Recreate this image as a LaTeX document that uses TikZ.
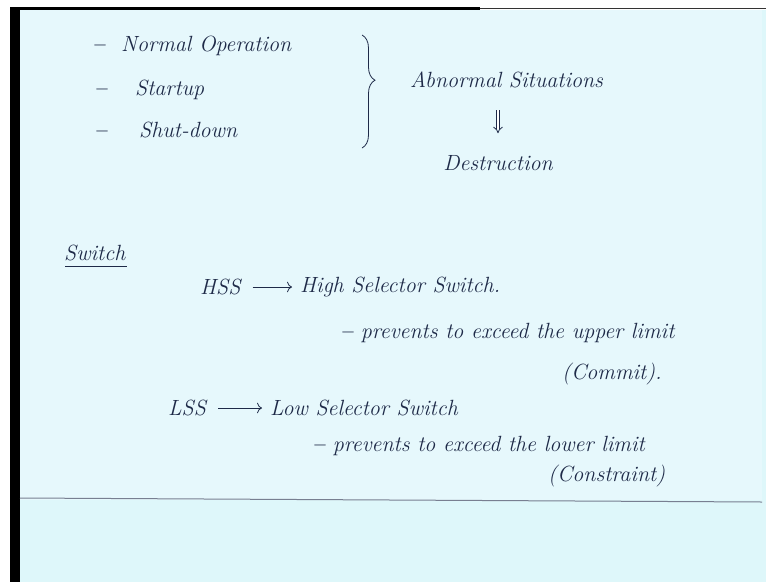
\documentclass[tikz,border=0pt]{standalone}
\usepackage{fontspec}
\usetikzlibrary{arrows.meta,decorations.pathreplacing,calc}
\definecolor{ink}{RGB}{30,42,72}
\definecolor{board}{RGB}{222,247,250}
\definecolor{sheet}{RGB}{230,248,252}
\newcommand{\pen}{\fontsize{22}{26}\selectfont\itshape\addfontfeatures{LetterSpace=6}}
\newcommand{\stroke}{\textbf{--}}
\tikzset{
    hand/.style={ink, font=\pen, inner sep=2pt, anchor=west},
}
\begin{document}
\begin{tikzpicture}[x=1pt, y=-1pt]
    \useasboundingbox (0,0) rectangle (766,582);
    % paper and frame
    \fill[white] (0,0) rectangle (766,582);
    \fill[board] (20,10) rectangle (766,582);
    \fill[sheet] (20,10) rectangle (762,500);
    \fill[black] (10,7) rectangle (20,582);
    \draw[black, line width=3pt] (10,8.5) -- (480,8.5);
    \draw[black!80, line width=1.5pt] (480,8.5) -- (766,8.5);
    \draw[ink!60, line width=1pt] (20,498) -- (762,502);

    % operating modes
    \node[hand] (norm) at (90,46) {\stroke\hspace{16pt}Normal Operation};
    \node[hand] (startup) at (92,90) {\stroke\hspace{28pt}Startup};
    \node[hand] (shutdown) at (92,130) {\stroke\hspace{32pt}Shut-down};
    \coordinate (bt) at (362,35);
    \coordinate (bb) at (362,148);
    \draw[ink, thick, decorate, decoration={brace, amplitude=13pt, aspect=0.4}] (bt) -- (bb);
    \node[hand] (abnormal) at (408,80) {Abnormal Situations};
    \node[hand, anchor=center] (destruct) at (498,163) {Destruction};
    \draw[ink, thick, double, double distance=2.5pt, -{Implies}, shorten <=20pt, shorten >=20pt]
        (abnormal.south -| destruct.north) -- (destruct.north);

    % switches
    \node[hand] (switch) at (62,253) {Switch};
    \draw[ink, thick] ($(switch.south west)+(3,3)$) -- ($(switch.south east)+(0,3)$);
    \node[hand] (hss) at (198,287) {HSS};
    \node[hand] (high) at (298,287) {High Selector Switch.};
    \draw[ink, thick, -{To[length=5pt]}, shorten <=10pt, shorten >=6pt] (hss) -- (high);
    \node[hand] (hssnote) at (338,333) {\stroke\ prevents to exceed the upper limit};
    \node[hand] (hsslimit) at (560,374) {(Commit).};
    \node[hand] (lss) at (166,408) {LSS};
    \node[hand] (low) at (268,408) {Low Selector Switch};
    \draw[ink, thick, -{To[length=5pt]}, shorten <=10pt, shorten >=6pt] (lss) -- (low);
    \node[hand] (lssnote) at (310,446) {\stroke\ prevents to exceed the lower limit};
    \node[hand] (lsslimit) at (546,476) {(Constraint)};
\end{tikzpicture}
\end{document}
